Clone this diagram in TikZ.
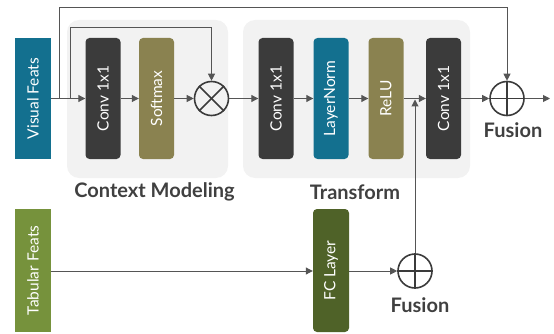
\documentclass[tikz,border=0pt]{standalone}
\usepackage{fontspec}
\setmainfont{Lato}
\usetikzlibrary{arrows.meta}
\definecolor{teal1}{HTML}{13708F}
\definecolor{dark1}{HTML}{3B3B3B}
\definecolor{olive1}{HTML}{8A8250}
\definecolor{green1}{HTML}{76923C}
\definecolor{green2}{HTML}{4F6228}
\definecolor{panel}{HTML}{F2F2F2}
\definecolor{line1}{HTML}{555555}
\definecolor{txt1}{HTML}{404040}
\tikzset{
  blk/.style={draw=none, rounded corners=4pt, minimum width=35pt, minimum height=121pt, inner sep=0pt},
  lbl/.style={text=white, font=\fontsize{15.5}{17}\selectfont, rotate=90},
  conn/.style={draw=line1, line width=1pt, -{Triangle[length=7pt,width=7pt]}},
  opc/.style={circle, draw=dark1, line width=1.6pt, minimum size=34pt, inner sep=0pt},
  sym/.style={draw=dark1, line width=1.6pt},
  captxt/.style={text=txt1, font=\bfseries\fontsize{20}{22}\selectfont},
}
\begin{document}
\begin{tikzpicture}[x=1pt,y=-1pt]
\useasboundingbox (0,0) rectangle (554,334);
% panels
\fill[panel, rounded corners=12pt] (67,20) rectangle (228,178);
\fill[panel, rounded corners=12pt] (243,20) rectangle (470,178);
% blocks
\node[blk, fill=teal1, rounded corners=0pt, minimum width=36pt] (vis) at (33,98.5) {};
\node[lbl] at (vis) {Visual Feats};
\node[blk, fill=dark1] (c1) at (103,98.5) {};
\node[lbl] at (c1) {Conv 1x1};
\node[blk, fill=olive1] (sm) at (156.5,98.5) {};
\node[lbl] at (sm) {Softmax};
\node[opc] (mul) at (211.5,98.5) {};
\draw[sym] (mul.north west) -- (mul.south east);
\draw[sym] (mul.north east) -- (mul.south west);
\node[blk, fill=dark1] (c2) at (276,98.5) {};
\node[lbl] at (c2) {Conv 1x1};
\node[blk, fill=teal1] (ln) at (331,98.5) {};
\node[lbl] at (ln) {LayerNorm};
\node[blk, fill=olive1] (relu) at (386,98.5) {};
\node[lbl] at (relu) {ReLU};
\node[blk, fill=dark1] (c3) at (443.5,98.5) {};
\node[lbl] at (c3) {Conv 1x1};
\node[opc] (add1) at (507,98.5) {};
\draw[sym] (add1.north) -- (add1.south);
\draw[sym] (add1.west) -- (add1.east);
\coordinate (out) at (550,98.5);
\node[captxt] (fus1) at (513,130) {Fusion};
\node[captxt] (cml) at (154.5,192) {Context Modeling};
\node[captxt] (trl) at (355,192) {Transform};
% bottom
\node[blk, fill=green1, rounded corners=0pt, minimum width=36pt, minimum height=123pt] (tab) at (33,270.5) {};
\node[lbl] at (tab) {Tabular Feats};
\node[blk, fill=green2, minimum width=36pt, minimum height=123pt] (fc) at (331,270.5) {};
\node[lbl] at (fc) {FC Layer};
\node[opc] (add2) at (415,271) {};
\draw[sym] (add2.north) -- (add2.south);
\draw[sym] (add2.west) -- (add2.east);
\node[captxt] (fus2) at (420,305) {Fusion};
% connectors
\coordinate (j1) at (59,98.5);
\coordinate (j2) at (70,98.5);
\coordinate (top1) at (0,8);
\coordinate (top2) at (0,28);
\coordinate (join) at (415,99.5);
\draw[conn] (vis.east) -- (c1.west);
\draw[conn] (c1) -- (sm);
\draw[conn] (sm) -- (mul);
\draw[conn] (mul) -- (c2);
\draw[conn] (c2) -- (ln);
\draw[conn] (ln) -- (relu);
\draw[conn] (relu) -- (c3);
\draw[conn] (c3) -- (add1);
\draw[conn] (add1) -- (out);
\draw[conn] (j1) -- (j1 |- top1) -| (add1.north);
\draw[conn] (j2) -- (j2 |- top2) -| (mul.north);
\draw[conn] (tab.east |- add2) -- (fc.west |- add2);
\draw[conn] (fc.east |- add2) -- (add2);
\draw[conn] (add2.north) -- (join);
\end{tikzpicture}
\end{document}
